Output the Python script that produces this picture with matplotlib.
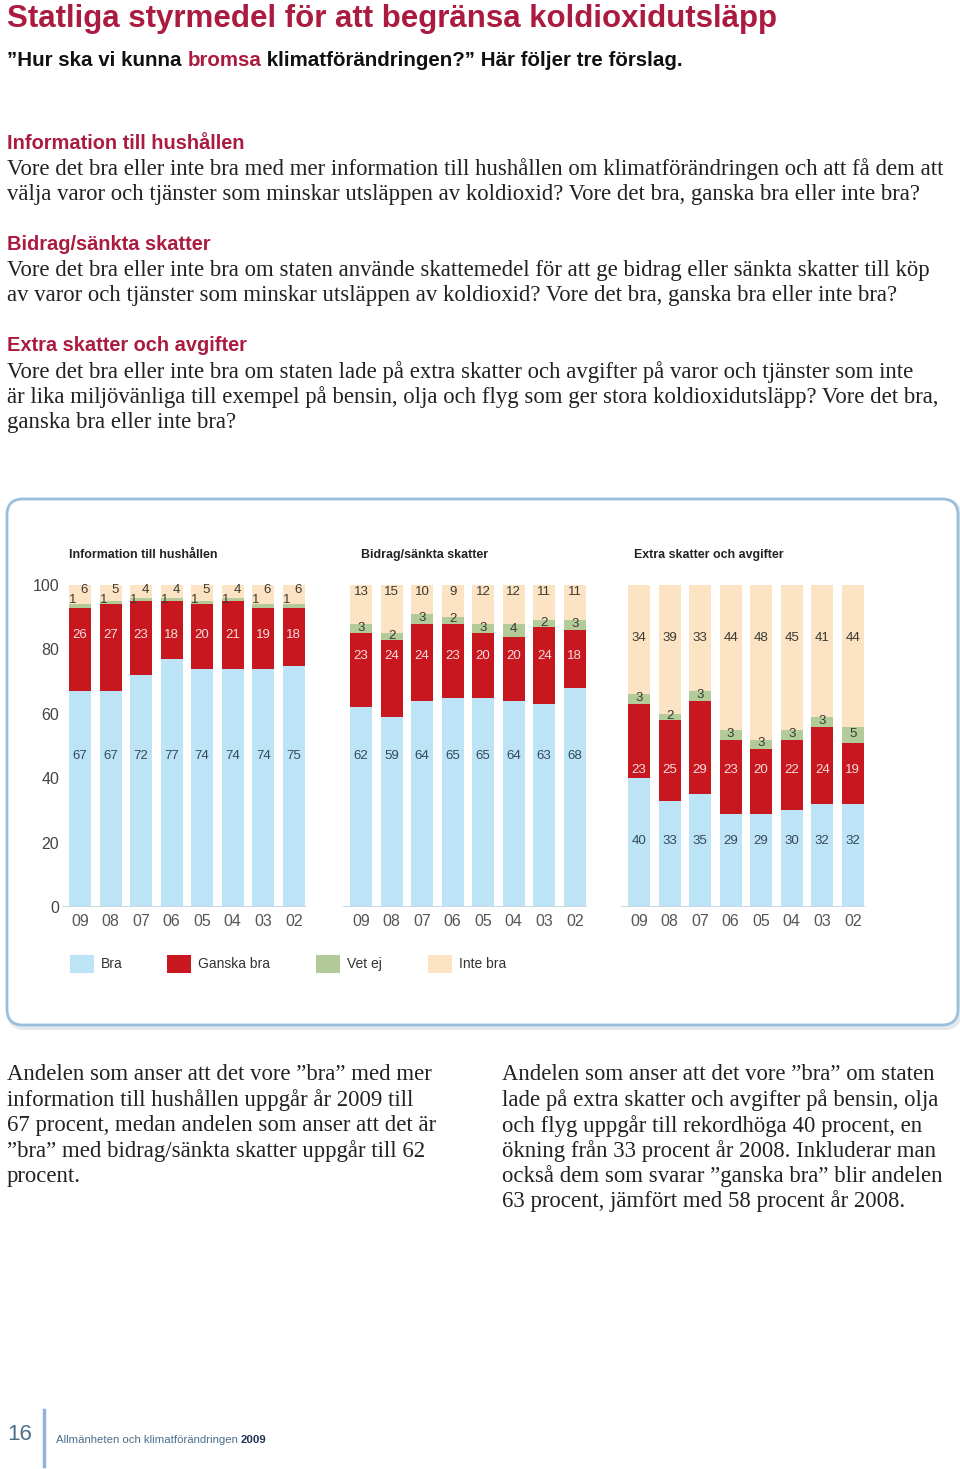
import matplotlib
matplotlib.use("Agg")
import matplotlib.pyplot as plt
from matplotlib.patches import FancyBboxPatch, Rectangle

W, H = 960, 1469

years = ["09", "08", "07", "06", "05", "04", "03", "02"]
panel_titles = ["Information till hushållen", "Bidrag/sänkta skatter", "Extra skatter och avgifter"]
series_names = ["Bra", "Ganska bra", "Vet ej", "Inte bra"]

info_bra = [67, 67, 72, 77, 74, 74, 74, 75]
info_ganska = [26, 27, 23, 18, 20, 21, 19, 18]
info_vetej = [1, 1, 1, 1, 1, 1, 1, 1]
info_inte = [6, 5, 4, 4, 5, 4, 6, 6]

bidrag_bra = [62, 59, 64, 65, 65, 64, 63, 68]
bidrag_ganska = [23, 24, 24, 23, 20, 20, 24, 18]
bidrag_vetej = [3, 2, 3, 2, 3, 4, 2, 3]
bidrag_inte = [13, 15, 10, 9, 12, 12, 11, 11]

extra_bra = [40, 33, 35, 29, 29, 30, 32, 32]
extra_ganska = [23, 25, 29, 23, 20, 22, 24, 19]
extra_vetej = [3, 2, 3, 3, 3, 3, 3, 5]
extra_inte = [34, 39, 33, 44, 48, 45, 41, 44]

colors = ["#bde3f6", "#c8171f", "#b3cb98", "#fbe3c4"]
label_colors = ["#34495a", "#f6dede", "#3a3a30", "#3a3a30"]
red = "#ab1b40"
serif = ["Liberation Serif", "DejaVu Serif"]
sans = ["Liberation Sans", "DejaVu Sans"]

fig = plt.figure(figsize=(W / 100, H / 100), dpi=100)
bg = fig.add_axes([0, 0, 1, 1])
bg.set_xlim(0, W)
bg.set_ylim(H, 0)
bg.axis("off")
r = fig.canvas.get_renderer()
inv = bg.transData.inverted()

def fit_size(s, width, size0, **kw):
    # font size that gives the text the wanted pixel width
    t = bg.text(0, 0, s, fontsize=size0, **kw)
    w = t.get_window_extent(r).width
    t.remove()
    return size0 * width / w

def run(x, y, parts, size, **kw):
    # several coloured pieces on one baseline
    for s, c, wt in parts:
        t = bg.text(x, y, s, fontsize=size, color=c, fontweight=wt, va="baseline", **kw)
        bb = t.get_window_extent(r)
        x = inv.transform((bb.x1, bb.y0))[0]

# header
ts = fit_size("Statliga styrmedel för att begränsa koldioxidutsläpp", 773, 24,
              family=sans, fontweight="bold")
bg.text(7, 27, "Statliga styrmedel för att begränsa koldioxidutsläpp", color=red,
        fontsize=ts, fontweight="bold", family=sans, va="baseline")
sub = "”Hur ska vi kunna bromsa klimatförändringen?” Här följer tre förslag."
ss = fit_size(sub, 676, 16, family=sans, fontweight="bold")
run(7, 66, [("”Hur ska vi kunna ", "#111111", "bold"), ("bromsa", red, "bold"),
            (" klimatförändringen?” Här följer tre förslag.", "#111111", "bold")],
    ss, family=sans)

sections = [
    (143, "Information till hushållen", [
        (169, "Vore det bra eller inte bra med mer information till hushållen om klimatförändringen och att få dem att"),
        (194, "välja varor och tjänster som minskar utsläppen av koldioxid? Vore det bra, ganska bra eller inte bra?")]),
    (244, "Bidrag/sänkta skatter", [
        (270, "Vore det bra eller inte bra om staten använde skattemedel för att ge bidrag eller sänkta skatter till köp"),
        (295, "av varor och tjänster som minskar utsläppen av koldioxid? Vore det bra, ganska bra eller inte bra?")]),
    (345, "Extra skatter och avgifter", [
        (372, "Vore det bra eller inte bra om staten lade på extra skatter och avgifter på varor och tjänster som inte"),
        (397, "är lika miljövänliga till exempel på bensin, olja och flyg som ger stora koldioxidutsläpp? Vore det bra,"),
        (422, "ganska bra eller inte bra?")]),
]
hs = fit_size("Information till hushållen", 238, 16, family=sans, fontweight="bold")
body = 16.4
for hy, head, lines in sections:
    bg.text(7, hy, head, color=red, fontsize=hs, fontweight="bold", family=sans, va="center")
    for ly, s in lines:
        bg.text(7, ly, s, color="#222222", fontsize=body, family=serif, va="center")

# chart box
bg.add_patch(FancyBboxPatch((9, 501), 951, 527, boxstyle="round,pad=0,rounding_size=16",
                            fc="none", ec="#e6e9ec", lw=3))
bg.add_patch(FancyBboxPatch((7, 499), 951, 526, boxstyle="round,pad=0,rounding_size=16",
                            fc="white", ec="#98c0de", lw=2))

def rect(x0, y0, x1, y1):
    return [x0 / W, 1 - y1 / H, (x1 - x0) / W, (y1 - y0) / H]

panels = [
    (info_bra, info_ganska, info_vetej, info_inte, 62, 309, 69),
    (bidrag_bra, bidrag_ganska, bidrag_vetej, bidrag_inte, 343, 590, 361),
    (extra_bra, extra_ganska, extra_vetej, extra_inte, 621, 868, 634),
]
# label heights (data units) for Bra, Ganska bra, Inte bra
label_y = [(47, 84.5, 98.4), (47, 78, 97.8), (20.5, 42.5, 83.5)]
pts = fit_size("Information till hushållen", 148, 10, family=sans, fontweight="bold")

x = list(range(len(years)))
for i, (bra, gan, vet, inte, x0, x1, tx) in enumerate(panels):
    ax = fig.add_axes(rect(x0, 585, x1, 907))
    ax.patch.set_alpha(0)
    b1 = bra
    b2 = [a + b for a, b in zip(bra, gan)]
    b3 = [a + b for a, b in zip(b2, vet)]
    ax.bar(x, bra, width=0.72, color=colors[0])
    ax.bar(x, gan, bottom=b1, width=0.72, color=colors[1])
    ax.bar(x, vet, bottom=b2, width=0.72, color=colors[2])
    ax.bar(x, [100 - v for v in b3], bottom=b3, width=0.72, color=colors[3])
    ax.axhline(0, color="#c9dbe6", lw=1.5, xmin=0.0, xmax=0.985)
    ax.set_xlim(-0.59, 7.5)
    ax.set_ylim(0, 100)
    for s in ax.spines.values():
        s.set_visible(False)
    ax.set_xticks(x)
    ax.set_xticklabels(years, fontsize=11.5, color="#555555", family=sans)
    ax.tick_params(axis="x", length=0, pad=5)
    if i == 0:
        ax.set_yticks([0, 20, 40, 60, 80, 100])
        ax.tick_params(axis="y", length=0, pad=2, labelsize=11.5, labelcolor="#444444")
        for lab in ax.get_yticklabels():
            lab.set_family(sans)
    else:
        ax.set_yticks([])
    ly_bra, ly_gan, ly_inte = label_y[i]
    for j in x:
        kw = dict(fontsize=9.5, family=sans, va="center")
        ax.text(j, ly_bra, str(bra[j]), color=label_colors[0], ha="center", **kw)
        ax.text(j, ly_gan, str(gan[j]), color=label_colors[1], ha="center", **kw)
        if i == 0:
            ax.text(j - 0.23, 95.4, str(vet[j]), color=label_colors[2], ha="center", **kw)
            ax.text(j + 0.14, ly_inte, str(inte[j]), color=label_colors[3], ha="center", **kw)
        else:
            ax.text(j, b2[j] + vet[j] / 2 + 0.3, str(vet[j]), color=label_colors[2], ha="center", **kw)
            ax.text(j, ly_inte, str(inte[j]), color=label_colors[3], ha="center", **kw)
    bg.text(tx, 555, panel_titles[i], fontsize=pts, fontweight="bold", family=sans,
            color="#222222", va="center")

# legend
leg_x = [70, 167, 316, 428]
for k, name in enumerate(series_names):
    bg.add_patch(Rectangle((leg_x[k], 955), 24, 18, fc=colors[k], ec="none"))
    bg.text(leg_x[k] + 31, 964, name, fontsize=10, family=sans, color="#333333",
            va="center")

left_col = [
    "Andelen som anser att det vore ”bra” med mer",
    "information till hushållen uppgår år 2009 till",
    "67 procent, medan andelen som anser att det är",
    "”bra” med bidrag/sänkta skatter uppgår till 62",
    "procent.",
]
right_col = [
    "Andelen som anser att det vore ”bra” om staten",
    "lade på extra skatter och avgifter på bensin, olja",
    "och flyg uppgår till rekordhöga 40 procent, en",
    "ökning från 33 procent år 2008. Inkluderar man",
    "också dem som svarar ”ganska bra” blir andelen",
    "63 procent, jämfört med 58 procent år 2008.",
]
for k, s in enumerate(left_col):
    bg.text(7, 1075 + k * 25.3, s, fontsize=body, family=serif, color="#222222", va="center")
for k, s in enumerate(right_col):
    bg.text(502, 1075 + k * 25.3, s, fontsize=body, family=serif, color="#222222", va="center")

# footer
bg.text(7, 1434, "16", fontsize=16, family=sans, color="#4d6f8c", va="center")
bg.plot([44, 44], [1410, 1466], color="#8fb6d8", lw=2.5)
run(56, 1443, [("Allmänheten och klimatförändringen ", "#4d6f8c", "normal"),
               ("2009", "#1f3550", "bold")], 8.2, family=sans)

fig.savefig("out.png", dpi=100)
